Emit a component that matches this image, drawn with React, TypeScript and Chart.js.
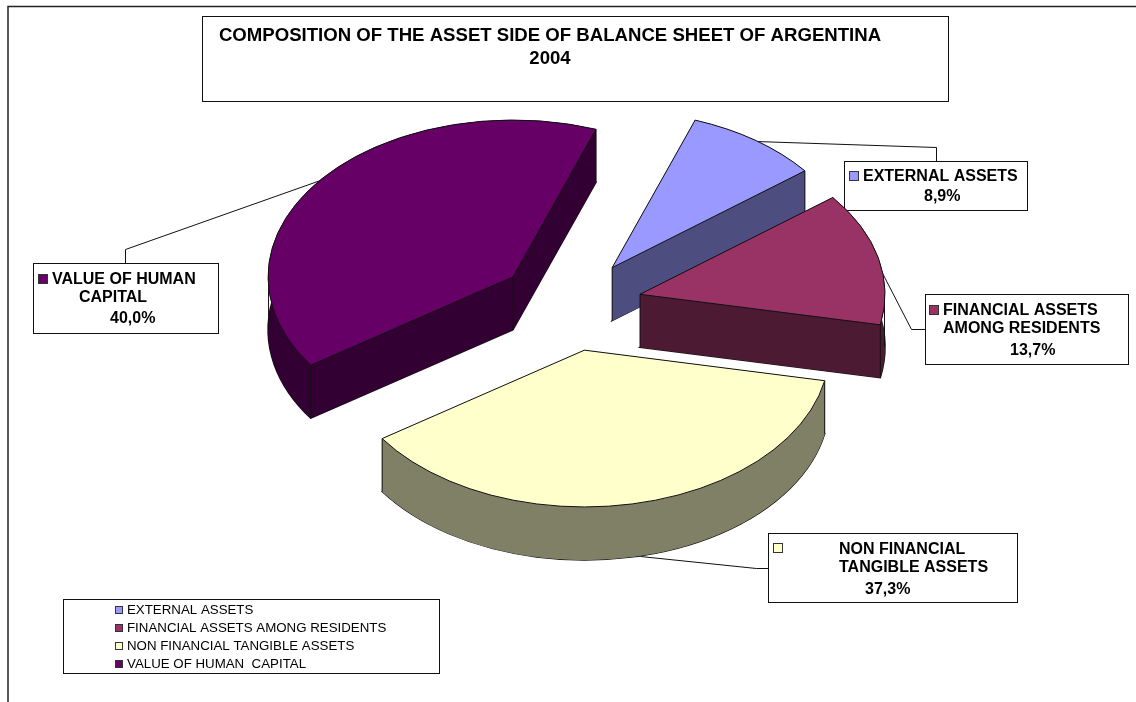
import React, { useEffect, useRef } from "react";
import { Chart, registerables } from "chart.js";

Chart.register(...registerables);

const categories = [
  "EXTERNAL ASSETS",
  "FINANCIAL ASSETS AMONG RESIDENTS",
  "NON FINANCIAL TANGIBLE ASSETS",
  "VALUE OF HUMAN  CAPITAL",
];
const shares = [8.9, 13.7, 37.3, 40.0];
const faceColors = ["#9999ff", "#993366", "#ffffcc", "#660066"];
const wallColors = ["#4d4d80", "#4d1a33", "#808066", "#330033"];
const titleLines = ["COMPOSITION OF THE ASSET SIDE OF BALANCE SHEET OF ARGENTINA", "2004"];
const percentLabels = ["8,9%", "13,7%", "37,3%", "40,0%"];

const FONT = '"Liberation Sans", Arial, sans-serif';
const SQUASH = 0.64; // vertical foreshortening of the tilted pie
const DEPTH = 53; // extrusion of the slices, px
const EXPLODE = 72; // how far each slice is pulled out, px
const INK = "#111111";

type Callout = {
  box: [number, number, number, number];
  swatch: [number, number];
  leader: [number, number][];
  rows: { text: string; x: number; y: number }[];
};

// Callout boxes, one for each slice
const callouts: Callout[] = [
  {
    box: [844, 161, 183, 49],
    swatch: [849, 171],
    leader: [[725, 140], [936, 147], [936, 161]],
    rows: [
      { text: "EXTERNAL ASSETS", x: 863, y: 181 },
      { text: percentLabels[0], x: 924, y: 201 },
    ],
  },
  {
    box: [925, 294, 203, 70],
    swatch: [929, 305],
    leader: [[878, 265], [911, 329], [925, 329]],
    rows: [
      { text: "FINANCIAL ASSETS", x: 943, y: 315 },
      { text: "AMONG RESIDENTS", x: 943, y: 333 },
      { text: percentLabels[1], x: 1010, y: 355 },
    ],
  },
  {
    box: [768, 533, 249, 69],
    swatch: [773, 543],
    leader: [[640, 556], [756, 568], [768, 568]],
    rows: [
      { text: "NON FINANCIAL", x: 839, y: 554 },
      { text: "TANGIBLE ASSETS", x: 839, y: 572 },
      { text: percentLabels[2], x: 865, y: 594 },
    ],
  },
  {
    box: [33, 263, 185, 70],
    swatch: [38, 274],
    leader: [[320, 180], [125, 249], [125, 263]],
    rows: [
      { text: "VALUE OF HUMAN", x: 52, y: 284 },
      { text: "CAPITAL", x: 79, y: 302 },
      { text: percentLabels[3], x: 110, y: 323 },
    ],
  },
];

const strokeRect = (ctx: CanvasRenderingContext2D, x: number, y: number, w: number, h: number) => {
  ctx.strokeRect(x + 0.5, y + 0.5, w, h);
};

const swatch = (ctx: CanvasRenderingContext2D, x: number, y: number, size: number, color: string) => {
  ctx.fillStyle = color;
  ctx.fillRect(x, y, size, size);
  ctx.strokeStyle = "#333333";
  ctx.lineWidth = 1;
  strokeRect(ctx, x, y, size, size);
};

// Page frame, title box, legend and the callouts all sit under the pie
function drawFurniture(ctx: CanvasRenderingContext2D) {
  ctx.save();
  ctx.fillStyle = "#ffffff";
  ctx.fillRect(0, 0, 1136, 702);

  ctx.strokeStyle = "#222222";
  ctx.lineWidth = 1.5;
  ctx.beginPath();
  ctx.moveTo(8, 702);
  ctx.lineTo(8, 6.5);
  ctx.lineTo(1136, 6.5);
  ctx.stroke();

  ctx.lineWidth = 1;
  ctx.strokeStyle = INK;
  strokeRect(ctx, 202, 16, 746, 85);
  ctx.fillStyle = "#000000";
  ctx.font = `bold 18.6px ${FONT}`;
  ctx.textBaseline = "alphabetic";
  ctx.textAlign = "center";
  ctx.fillText(titleLines[0], 550, 41);
  ctx.fillText(titleLines[1], 550, 64);
  ctx.textAlign = "left";

  strokeRect(ctx, 63, 599, 376, 74);
  categories.forEach((name, i) => {
    swatch(ctx, 115, 606 + i * 18, 7, faceColors[i]);
    ctx.fillStyle = "#000000";
    ctx.font = `13.3px ${FONT}`;
    ctx.fillText(name, 127, 614 + i * 18);
  });

  callouts.forEach((c, i) => {
    ctx.strokeStyle = INK;
    ctx.lineWidth = 1;
    ctx.beginPath();
    c.leader.forEach(([x, y], n) => (n ? ctx.lineTo(x + 0.5, y + 0.5) : ctx.moveTo(x + 0.5, y + 0.5)));
    ctx.stroke();
    ctx.fillStyle = "#ffffff";
    ctx.fillRect(c.box[0], c.box[1], c.box[2], c.box[3]);
    strokeRect(ctx, c.box[0], c.box[1], c.box[2], c.box[3]);
    swatch(ctx, c.swatch[0], c.swatch[1], 9, faceColors[i]);
    ctx.fillStyle = "#000000";
    ctx.font = `bold 16px ${FONT}`;
    c.rows.forEach((r) => ctx.fillText(r.text, r.x, r.y));
  });
  ctx.restore();
}

// Paints a pie arc element with the given fill, squashed to the tilted plane
function fillArc(ctx: CanvasRenderingContext2D, arc: any, color: string, dx: number, dy: number) {
  const saved = arc.options;
  arc.options = {
    backgroundColor: color,
    borderColor: color,
    borderWidth: 0,
    borderAlign: "center",
    borderRadius: 0,
    offset: 0,
    spacing: 0,
    circular: true,
  };
  ctx.save();
  ctx.translate(arc.x + dx, arc.y + dy);
  ctx.scale(1, SQUASH);
  ctx.translate(-arc.x, -arc.y);
  arc.draw(ctx);
  ctx.restore();
  arc.options = saved;
}

function tracePie(ctx: CanvasRenderingContext2D, arc: any, dx: number, dy: number) {
  const cx = arc.x + dx;
  const cy = arc.y + dy;
  ctx.beginPath();
  ctx.moveTo(cx, cy);
  ctx.ellipse(cx, cy, arc.outerRadius, arc.outerRadius * SQUASH, 0, arc.startAngle, arc.endAngle);
  ctx.closePath();
}

const tiltedPiePlugin = {
  id: "tiltedPie",
  beforeDatasetsDraw(chart: any) {
    const ctx: CanvasRenderingContext2D = chart.ctx;
    drawFurniture(ctx);
    const arcs = chart.getDatasetMeta(0).data;
    arcs.forEach((arc: any, i: number) => {
      const mid = (arc.startAngle + arc.endAngle) / 2;
      const dx = Math.cos(mid) * EXPLODE;
      const dy = Math.sin(mid) * EXPLODE * SQUASH;
      const R = arc.outerRadius;
      const ry = R * SQUASH;
      const cx = arc.x + dx;
      const cy = arc.y + dy;
      const start: [number, number] = [cx + Math.cos(arc.startAngle) * R, cy + Math.sin(arc.startAngle) * ry];
      const end: [number, number] = [cx + Math.cos(arc.endAngle) * R, cy + Math.sin(arc.endAngle) * ry];

      // Lower outline and floor of the slice
      ctx.strokeStyle = INK;
      ctx.lineWidth = 1.4;
      tracePie(ctx, arc, dx, dy + DEPTH);
      ctx.stroke();
      fillArc(ctx, arc, wallColors[i], dx, dy + DEPTH);

      // Two radial walls and the curved rim, in the darker shade
      ctx.fillStyle = wallColors[i];
      [start, end].forEach(([x, y]) => {
        ctx.beginPath();
        ctx.moveTo(cx, cy);
        ctx.lineTo(x, y);
        ctx.lineTo(x, y + DEPTH);
        ctx.lineTo(cx, cy + DEPTH);
        ctx.closePath();
        ctx.fill();
      });
      ctx.beginPath();
      ctx.ellipse(cx, cy, R, ry, 0, arc.startAngle, arc.endAngle);
      ctx.ellipse(cx, cy + DEPTH, R, ry, 0, arc.endAngle, arc.startAngle, true);
      ctx.closePath();
      ctx.fill();

      // Vertical edges at the corners and at the silhouette of the rim
      const corners: [number, number][] = [[cx, cy], start, end];
      for (const turn of [0, Math.PI, 2 * Math.PI, 3 * Math.PI]) {
        if (turn > arc.startAngle && turn < arc.endAngle) {
          corners.push([cx + Math.cos(turn) * (R - 0.5), cy]);
        }
      }
      ctx.strokeStyle = INK;
      ctx.lineWidth = 1;
      ctx.beginPath();
      corners.forEach(([x, y]) => {
        ctx.moveTo(x, y);
        ctx.lineTo(x, y + DEPTH);
      });
      ctx.stroke();

      // Top face
      fillArc(ctx, arc, faceColors[i], dx, dy);
      ctx.strokeStyle = INK;
      tracePie(ctx, arc, dx, dy);
      ctx.stroke();
    });
    return false;
  },
};

export default function App() {
  const ref = useRef<HTMLCanvasElement>(null);

  useEffect(() => {
    if (!ref.current) return;
    const chart = new Chart(ref.current, {
      type: "pie",
      data: {
        labels: categories,
        datasets: [{ data: shares, backgroundColor: faceColors, borderWidth: 0 }],
      },
      options: {
        responsive: false,
        animation: false,
        rotation: 19.8,
        layout: { padding: { left: 325, right: 321, top: 60, bottom: 152 } },
        plugins: { legend: { display: false }, title: { display: false }, tooltip: { enabled: false } },
      },
      plugins: [tiltedPiePlugin],
    } as any);
    return () => chart.destroy();
  }, []);

  return (
    <canvas
      ref={ref}
      width={1136}
      height={702}
      style={{ position: "absolute", left: 0, top: 0, display: "block" }}
    />
  );
}
